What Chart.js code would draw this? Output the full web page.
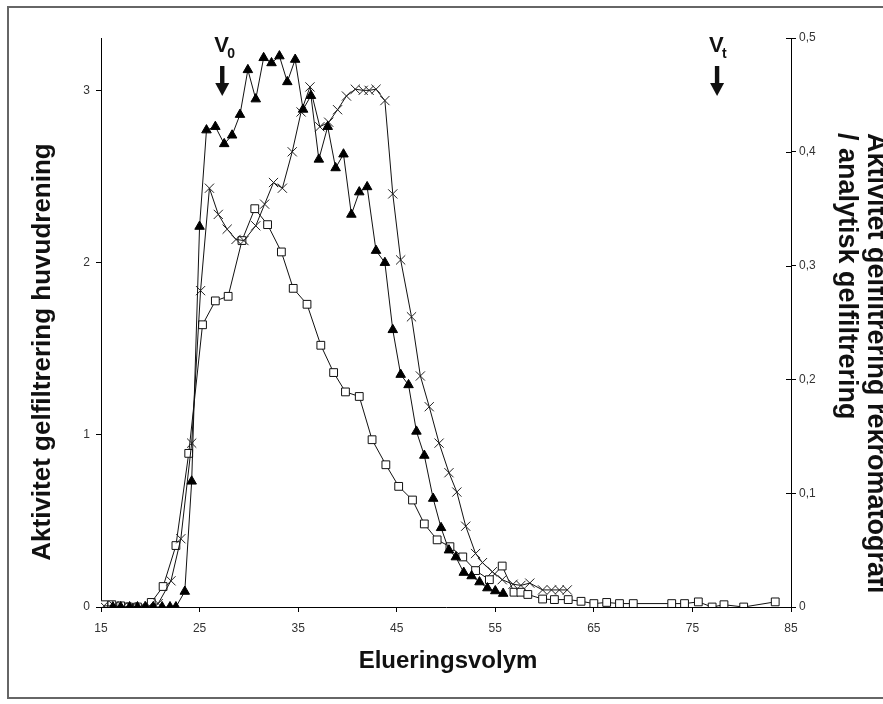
<!DOCTYPE html>
<html>
<head>
<meta charset="utf-8">
<script src="https://cdn.jsdelivr.net/npm/chart.js@4.4.1/dist/chart.umd.min.js"></script>
<style>
  html, body { margin: 0; padding: 0; background: #fff; overflow: hidden; }
  #wrap { width: 883px; height: 704px; }
</style>
</head>
<body>
<div id="wrap"><canvas id="chart" width="883" height="704"></canvas></div>
<script>
// elueringsvolym (ml) och aktivitet per serie
const triX = [16.2, 17.0, 17.9, 18.7, 19.5, 20.3, 21.2, 22.0, 22.6, 23.5, 24.2, 25.0, 25.7, 26.6, 27.5, 28.3, 29.1, 29.9, 30.7, 31.5, 32.3, 33.1, 33.9, 34.7, 35.5, 36.3, 37.1, 38.0, 38.8, 39.6, 40.4, 41.2, 42.0, 42.9, 43.8, 44.6, 45.4, 46.2, 47.0, 47.8, 48.7, 49.5, 50.3, 51.0, 51.8, 52.6, 53.4, 54.2, 55.0, 55.8];
const triY = [0, 0, 0, 0, 0, 0, 0, 0, 0, 0.09, 0.73, 2.21, 2.77, 2.79, 2.69, 2.74, 2.86, 3.12, 2.95, 3.19, 3.16, 3.20, 3.05, 3.18, 2.89, 2.97, 2.60, 2.79, 2.55, 2.63, 2.28, 2.41, 2.44, 2.07, 2.00, 1.61, 1.35, 1.29, 1.02, 0.88, 0.63, 0.46, 0.33, 0.29, 0.20, 0.18, 0.145, 0.11, 0.093, 0.078];

const crossX = [15.3, 16.3, 17.2, 18.1, 19.0, 19.9, 20.8, 22.1, 23.1, 24.2, 25.1, 26.0, 26.9, 27.8, 28.7, 29.5, 30.7, 31.6, 32.5, 33.4, 34.4, 35.3, 36.2, 37.2, 38.1, 39.0, 39.9, 40.8, 41.6, 42.2, 42.9, 43.8, 44.6, 45.4, 46.5, 47.4, 48.3, 49.3, 50.3, 51.1, 52.0, 53.0, 53.7, 54.7, 55.7, 56.8, 57.6, 58.5, 59.8, 60.7, 61.5, 62.3];
const crossY = [0.001, 0.001, 0, 0, 0, 0.001, 0.003, 0.023, 0.060, 0.144, 0.278, 0.368, 0.345, 0.332, 0.323, 0.322, 0.335, 0.354, 0.373, 0.368, 0.400, 0.435, 0.457, 0.422, 0.426, 0.437, 0.449, 0.455, 0.454, 0.454, 0.455, 0.445, 0.363, 0.305, 0.255, 0.203, 0.176, 0.144, 0.118, 0.101, 0.071, 0.047, 0.039, 0.031, 0.024, 0.020, 0.019, 0.021, 0.015, 0.015, 0.015, 0.015];

const sqX = [15.3, 16.1, 17.0, 17.8, 18.7, 20.1, 21.3, 22.6, 23.9, 25.3, 26.6, 27.9, 29.3, 30.6, 31.9, 33.3, 34.5, 35.9, 37.3, 38.6, 39.8, 41.2, 42.5, 43.9, 45.2, 46.6, 47.8, 49.1, 50.4, 51.7, 53.0, 54.4, 55.7, 56.9, 57.6, 58.3, 59.8, 61.0, 62.4, 63.7, 65.0, 66.3, 67.6, 69.0, 72.9, 74.2, 75.6, 77.0, 78.2, 80.2, 83.4];
const sqY = [0.002, 0.002, 0.001, 0, 0, 0.004, 0.018, 0.054, 0.135, 0.248, 0.269, 0.273, 0.322, 0.350, 0.336, 0.312, 0.280, 0.266, 0.230, 0.206, 0.189, 0.185, 0.147, 0.125, 0.106, 0.094, 0.073, 0.059, 0.053, 0.044, 0.032, 0.024, 0.036, 0.013, 0.013, 0.011, 0.007, 0.0065, 0.0065, 0.005, 0.003, 0.004, 0.003, 0.003, 0.003, 0.003, 0.0045, 0, 0.002, 0, 0.0045];

const xTicks = [15, 25, 35, 45, 55, 65, 75, 85];
const leftTicks = [0, 1, 2, 3];
const rightTicks = [0, 0.1, 0.2, 0.3, 0.4, 0.5];
const v0X = 27.3, vtX = 77.5;

const FONT = '"Liberation Sans", Arial, sans-serif';
const pts = (xs, ys) => xs.map((x, i) => ({ x: x, y: ys[i] }));
const setTicks = arr => scale => { scale.ticks = arr.map(v => ({ value: v })); };

const extras = {
    id: 'extras',
    beforeDraw(chart) {
        const ctx = chart.ctx;
        ctx.save();
        ctx.fillStyle = '#fff';
        ctx.fillRect(0, 0, chart.width, chart.height);
        // ram runt figuren
        ctx.strokeStyle = '#666';
        ctx.lineWidth = 2;
        ctx.beginPath();
        ctx.moveTo(chart.width + 2, 7);
        ctx.lineTo(8, 7);
        ctx.lineTo(8, 698);
        ctx.lineTo(chart.width + 2, 698);
        ctx.stroke();
        ctx.restore();
    },
    afterDraw(chart) {
        const ctx = chart.ctx;
        const xs = chart.scales.x;
        const y2 = chart.scales.y2;
        ctx.save();

        // högeraxelns streck går även in i diagrammet
        ctx.strokeStyle = '#000';
        ctx.lineWidth = 1;
        rightTicks.forEach(v => {
            const py = Math.round(y2.getPixelForValue(v)) + 0.5;
            ctx.beginPath();
            ctx.moveTo(y2.left - 5, py);
            ctx.lineTo(y2.left, py);
            ctx.stroke();
        });

        ctx.fillStyle = '#111';
        ctx.textBaseline = 'middle';

        // axeltitlar
        ctx.font = 'bold 24px ' + FONT;
        ctx.textAlign = 'center';
        ctx.fillText('Elueringsvolym', 448, 661);

        ctx.save();
        ctx.translate(43, 352);
        ctx.rotate(-Math.PI / 2);
        ctx.font = 'bold 26px ' + FONT;
        ctx.fillText('Aktivitet gelfiltrering huvudrening', 0, 0);
        ctx.restore();

        ctx.save();
        ctx.translate(875, 133);
        ctx.rotate(Math.PI / 2);
        ctx.font = 'bold 27px ' + FONT;
        ctx.textAlign = 'left';
        ctx.fillText('Aktivitet gelfiltrering rekromatografi', 0, 0);
        ctx.fillText('/ analytisk gelfiltrering', 0, 29);
        ctx.restore();

        // V0 och Vt med pilar
        [[v0X, '0'], [vtX, 't']].forEach(([v, sub]) => {
            const px = xs.getPixelForValue(v);
            ctx.textAlign = 'left';
            ctx.textBaseline = 'alphabetic';
            ctx.font = 'bold 22px ' + FONT;
            ctx.fillText('V', px - 8, 52);
            ctx.font = 'bold 14px ' + FONT;
            ctx.fillText(sub, px + 5, 58);
            ctx.fillRect(px - 2.2, 66, 4.4, 18);
            ctx.beginPath();
            ctx.moveTo(px - 7, 83);
            ctx.lineTo(px + 7, 83);
            ctx.lineTo(px, 96);
            ctx.closePath();
            ctx.fill();
        });
        ctx.restore();
    }
};

const common = { borderColor: '#111', borderWidth: 1, tension: 0, pointBorderWidth: 1 };

new Chart(document.getElementById('chart'), {
    type: 'line',
    data: {
        datasets: [
            Object.assign({ label: 'huvudrening', data: pts(triX, triY), yAxisID: 'y',
                pointStyle: 'triangle', pointRadius: 5.5, pointBackgroundColor: '#000', pointBorderColor: '#000' }, common),
            Object.assign({ label: 'rekromatografi', data: pts(crossX, crossY), yAxisID: 'y2',
                pointStyle: 'crossRot', pointRadius: 6.5, pointBorderColor: '#222' }, common),
            Object.assign({ label: 'analytisk', data: pts(sqX, sqY), yAxisID: 'y2',
                pointStyle: 'rect', pointRadius: 5.5, pointBackgroundColor: '#fff', pointBorderColor: '#111' }, common)
        ]
    },
    options: {
        responsive: false,
        animation: false,
        layout: { padding: { top: 38, left: 0, right: 0, bottom: 0 } },
        plugins: { legend: { display: false }, tooltip: { enabled: false } },
        scales: {
            x: {
                type: 'linear', min: 15, max: 85,
                afterBuildTicks: setTicks(xTicks),
                afterFit: s => { s.height = 97; },
                grid: { drawOnChartArea: false, tickLength: 5, color: '#000' },
                border: { color: '#000', width: 1 },
                ticks: { font: { family: FONT, size: 12 }, color: '#333', padding: 9 }
            },
            y: {
                position: 'left', min: 0, max: 3.305,
                afterBuildTicks: setTicks(leftTicks),
                afterFit: s => { s.width = 101; },
                grid: { drawOnChartArea: false, tickLength: 5, color: '#000' },
                border: { color: '#000', width: 1 },
                ticks: { font: { family: FONT, size: 12 }, color: '#333', padding: 6 }
            },
            y2: {
                position: 'right', min: 0, max: 0.5,
                afterBuildTicks: setTicks(rightTicks),
                afterFit: s => { s.width = 92; },
                grid: { drawOnChartArea: false, tickLength: 5, color: '#000' },
                border: { color: '#000', width: 1 },
                ticks: {
                    font: { family: FONT, size: 12 }, color: '#333', padding: 3,
                    callback: v => v === 0 ? '0' : v.toFixed(1).replace('.', ',')
                }
            }
        }
    },
    plugins: [extras]
});
</script>
</body>
</html>
